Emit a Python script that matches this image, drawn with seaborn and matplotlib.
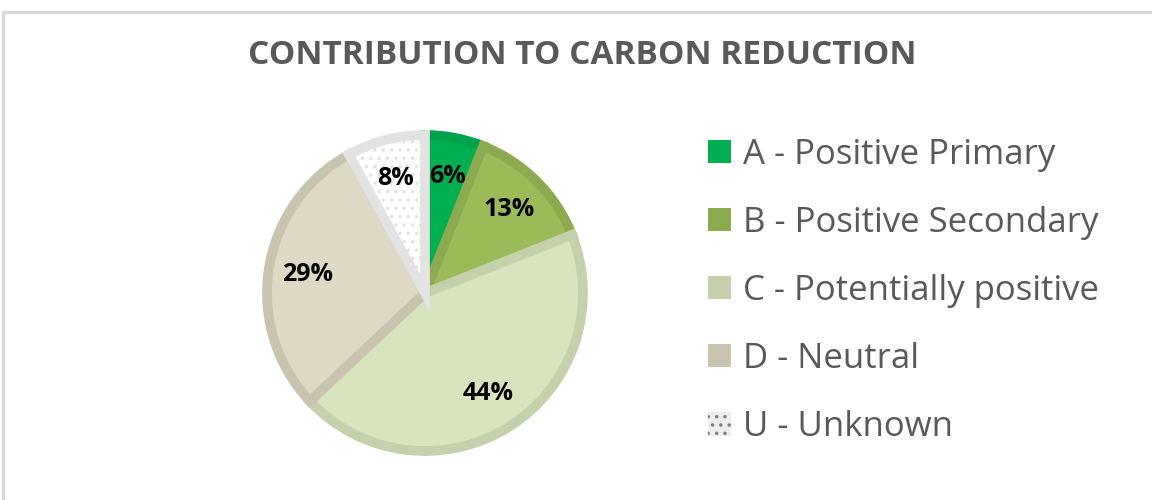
import matplotlib
matplotlib.use("Agg")
import matplotlib.pyplot as plt
import matplotlib.patches as mpatches
from matplotlib.lines import Line2D
import seaborn as sns

categories = ["A - Positive Primary", "B - Positive Secondary", "C - Potentially positive",
              "D - Neutral", "U - Unknown"]
shares = [6, 13, 44, 29, 8]
fill_colors = ["#00b050", "#9bbb59", "#d7e4bd", "#ddd9c4", "#ffffff"]
edge_colors = ["#00a34a", "#8caa4f", "#c4d1aa", "#c9c4ad", "#e3e3e3"]
legend_colors = ["#00b050", "#8caa4f", "#c4d1aa", "#c9c4ad", "#eeeeee"]

sns.set_theme(style="white")
plt.rcParams['font.family'] = ['Open Sans', 'DejaVu Sans']
plt.rcParams['hatch.color'] = "#707070"
plt.rcParams['hatch.linewidth'] = 1.3

fig = plt.figure(figsize=(11.52, 5), dpi=100)
fig.patch.set_facecolor("white")

# pie centre ~ (425, 293) px, radius ~158 px (edge adds a few px)
cx, cy, r = 425, 293, 158
ax = fig.add_axes([(cx - r) / 1152, (500 - cy - r) / 500, 2 * r / 1152, 2 * r / 500])
wedges, texts, autotexts = ax.pie(
    shares, colors=fill_colors, startangle=90, counterclock=False,
    autopct=lambda p: f"{p:.0f}%", pctdistance=0.75,
    wedgeprops=dict(linewidth=7), textprops=dict(fontsize=18, fontweight="bold", color="black"))
for w, ec in zip(wedges, edge_colors):
    w.set_edgecolor(ec)
    w.set_clip_on(False)
wedges[4].set_hatch("..")
ax.set_xlim(-1, 1)
ax.set_ylim(-1, 1)
ax.set_aspect("equal")
ax.axis("off")

fig.text(0.505, 0.888, "CONTRIBUTION TO CARBON REDUCTION", ha="center", va="center",
         fontsize=24, fontweight="bold", color="#595959")

handles = []
for i, c in enumerate(legend_colors):
    if i == 4:
        handles.append(mpatches.Patch(facecolor=c, edgecolor="#808080", linewidth=0, hatch=".."))
    else:
        handles.append(mpatches.Patch(facecolor=c, edgecolor="none"))
leg = fig.legend(handles, categories, loc="upper left", bbox_to_anchor=(708 / 1152, 1 - 138 / 500),
                 frameon=False, fontsize=25, labelcolor="#595959", handlelength=0.65,
                 handleheight=0.65, handletextpad=0.35, labelspacing=0.98, borderpad=0,
                 borderaxespad=0)

# chart area border (top and left edges visible)
fig.add_artist(Line2D([3 / 1152, 3 / 1152], [0, 1 - 12 / 500], color="#d9d9d9", lw=2.5))
fig.add_artist(Line2D([3 / 1152, 1], [1 - 12 / 500, 1 - 12 / 500], color="#d9d9d9", lw=2.5))

fig.savefig("out.png", dpi=100, facecolor="white")
